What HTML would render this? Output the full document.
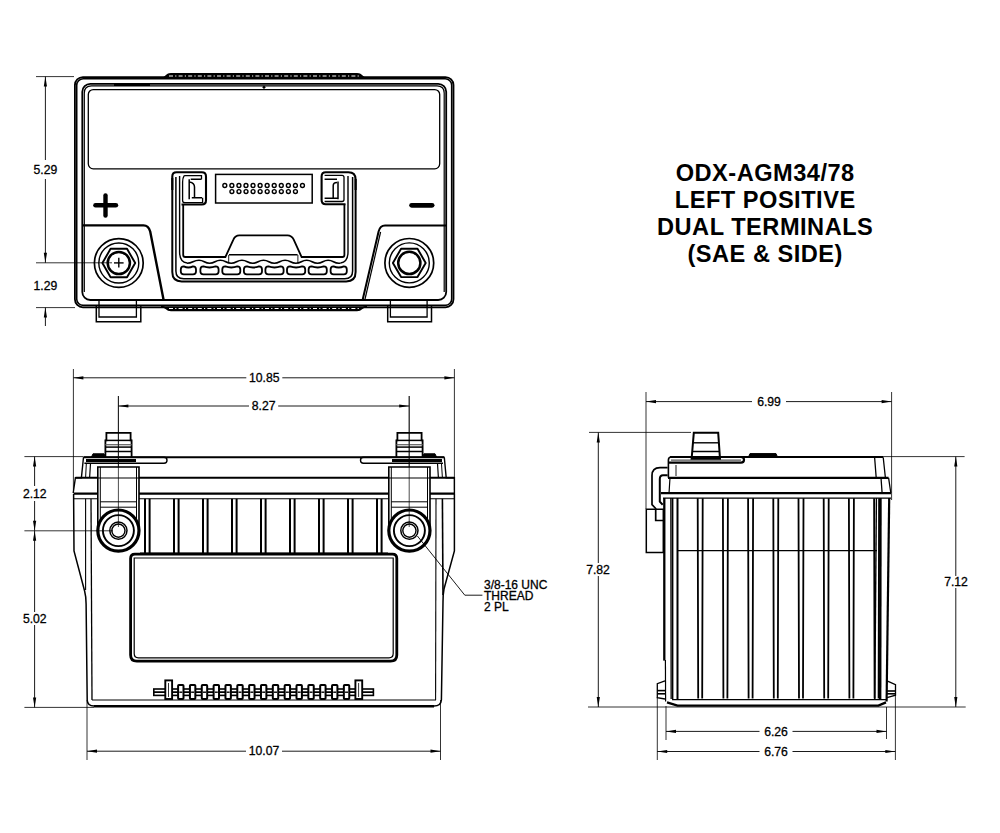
<!DOCTYPE html>
<html><head><meta charset="utf-8"><style>
html,body{margin:0;padding:0;background:#fff;}
svg{display:block;}
text{font-family:"Liberation Sans",sans-serif;fill:#000;}
</style></head><body>
<svg width="1000" height="833" viewBox="0 0 1000 833">
<rect width="1000" height="833" fill="#fff"/>
<rect x="74.9" y="77.1" width="378.6" height="230.2" rx="8" fill="none" stroke="#000" stroke-width="1.8" />
<rect x="76.7" y="78.8" width="375.0" height="226.6" rx="6.5" fill="none" stroke="#000" stroke-width="1.6" />
<rect x="82.3" y="83.8" width="363.9" height="216.2" rx="8" fill="none" stroke="#000" stroke-width="1.8" />
<path d="M84.3,292 L84.3,93 Q84.3,85.8 91.5,85.8 L437,85.8 Q444.2,85.8 444.2,93 L444.2,292" fill="none" stroke="#000" stroke-width="1.2" />
<rect x="88.3" y="89.6" width="351.4" height="79.2" rx="5" fill="none" stroke="#000" stroke-width="1.3" />
<path d="M161,78.2 Q164,78.2 166,75.8 Q168,73.6 171,73.6 L357,73.6 Q360,73.6 362,75.8 Q364,78.2 367,78.2" fill="#000" stroke="#000" stroke-width="1.3" />
<line x1="169" y1="76.0" x2="359" y2="76.0" stroke="#fff" stroke-width="1.0" stroke-dasharray="4 2.2 1.2 2.2"/>
<path d="M161,306.5 Q164,306.5 166,308.5 Q168,310.6 171,310.6 L357,310.6 Q360,310.6 362,308.5 Q364,306.5 367,306.5" fill="#000" stroke="#000" stroke-width="1.3" />
<line x1="169" y1="308.5" x2="359" y2="308.5" stroke="#fff" stroke-width="1.0" stroke-dasharray="4 2.2 1.2 2.2"/>
<line x1="114" y1="84.8" x2="150" y2="84.8" stroke="#000" stroke-width="2.2" />
<circle cx="264" cy="87.2" r="1.2" fill="#000" stroke="#000" stroke-width="0.5"/>
<line x1="95.5" y1="205.2" x2="115.9" y2="205.2" stroke="#000" stroke-width="4.6" stroke-linecap="round"/>
<line x1="105.5" y1="195.4" x2="105.5" y2="215.5" stroke="#000" stroke-width="4.4" stroke-linecap="round"/>
<line x1="411.6" y1="205.3" x2="432.1" y2="205.3" stroke="#000" stroke-width="4.8" stroke-linecap="round"/>
<path d="M82.3,225.4 L143.5,225.4 Q148.5,225.4 150.2,231.5 L163.6,300" fill="none" stroke="#000" stroke-width="2.4" />
<path d="M446.2,225.4 L385,225.4 Q380,225.4 378.6,231.5 L362.6,300" fill="none" stroke="#000" stroke-width="2.0" />
<path d="M380.6,232 L364.8,300" fill="none" stroke="#000" stroke-width="1.2" />
<line x1="90" y1="300" x2="438" y2="300" stroke="#000" stroke-width="1.8" />
<circle cx="118.8" cy="263.0" r="24.4" fill="none" stroke="#000" stroke-width="1.7"/>
<circle cx="118.8" cy="263.0" r="20.0" fill="none" stroke="#000" stroke-width="1.4"/>
<polygon points="135.2,263.0 127.0,277.2 110.6,277.2 102.4,263.0 110.6,248.8 127.0,248.8" fill="none" stroke="#000" stroke-width="1.9" stroke-linejoin="round"/>
<circle cx="118.8" cy="263.0" r="11.1" fill="none" stroke="#000" stroke-width="2.5"/>
<circle cx="409.3" cy="262.9" r="24.4" fill="none" stroke="#000" stroke-width="1.7"/>
<circle cx="409.3" cy="262.9" r="20.0" fill="none" stroke="#000" stroke-width="1.4"/>
<polygon points="425.7,262.9 417.5,277.1 401.1,277.1 392.9,262.9 401.1,248.7 417.5,248.7" fill="none" stroke="#000" stroke-width="1.9" stroke-linejoin="round"/>
<circle cx="409.3" cy="262.9" r="11.1" fill="none" stroke="#000" stroke-width="2.5"/>
<line x1="114" y1="262.9" x2="123.6" y2="262.9" stroke="#000" stroke-width="1.4" />
<line x1="118.8" y1="257.8" x2="118.8" y2="267.6" stroke="#000" stroke-width="1.4" />
<path d="M96.3,306 L96.3,321.8 L140.8,321.8 L140.8,306" fill="none" stroke="#000" stroke-width="1.5" />
<path d="M99.0,301 L99.0,317 L136.4,317 L136.4,301" fill="none" stroke="#000" stroke-width="1.3" />
<line x1="99.0" y1="305.8" x2="136.4" y2="305.8" stroke="#000" stroke-width="1.0" />
<path d="M387.7,306 L387.7,321.8 L431.5,321.8 L431.5,306" fill="none" stroke="#000" stroke-width="1.5" />
<path d="M390.4,301 L390.4,317 L427.1,317 L427.1,301" fill="none" stroke="#000" stroke-width="1.3" />
<line x1="390.4" y1="305.8" x2="427.1" y2="305.8" stroke="#000" stroke-width="1.0" />
<path d="M172.3,190 L172.3,176.5 Q172.3,172.3 176.5,172.3 L201.8,172.3 Q206,172.3 206,176.5 L206,200.3 Q206,204.5 201.8,204.5 L181.5,204.5" fill="none" stroke="#000" stroke-width="2.1" />
<path d="M355.6,190 L355.6,179.5 Q355.6,172.3 348.4,172.3 L325.8,172.3 Q321.6,172.3 321.6,176.5 L321.6,200.1 Q321.6,204.3 325.8,204.3 L345.5,204.3" fill="none" stroke="#000" stroke-width="2.1" />
<path d="M172.3,178 L172.3,272 Q172.3,281.4 181.7,281.4 L346.2,281.4 Q355.6,281.4 355.6,272 L355.6,179" fill="none" stroke="#000" stroke-width="2.0" />
<path d="M175.9,177 L175.9,271 Q175.9,278.8 183.7,278.8 L344.8,278.8 Q352.6,278.8 352.6,271 L352.6,177" fill="none" stroke="#000" stroke-width="1.5" />
<path d="M179.6,176 L179.6,252 Q179.6,262 187,263" fill="none" stroke="#000" stroke-width="1.4" />
<path d="M348,176 L348,252 Q348,262 340.5,263" fill="none" stroke="#000" stroke-width="1.4" />
<path d="M183.2,204.5 L183.2,255 Q183.2,257 185.2,257 L225.4,257 L233.5,239.4 Q235.2,235.3 239.3,235.3 L287.5,235.3 Q291.6,235.3 293.6,239.4 L301.6,257 L342.4,257 Q344.4,257 344.4,255 L344.4,204.2" fill="none" stroke="#000" stroke-width="1.8" />
<line x1="229" y1="254.8" x2="297.6" y2="254.8" stroke="#000" stroke-width="1.6" />
<line x1="228.7" y1="255" x2="228.7" y2="263" stroke="#000" stroke-width="0.9" />
<line x1="297.9" y1="255" x2="297.9" y2="263" stroke="#000" stroke-width="0.9" />
<path d="M187,263.2 C193.0,263.2 193.0,260.2 199.0,260.2 C204.3,260.2 204.3,263.2 209.6,263.2 C215.0,263.2 215.0,260.2 220.39999999999998,260.2 C225.79999999999998,260.2 225.79999999999998,263.2 231.2,263.2 C236.575,263.2 236.575,260.2 241.95,260.2 C247.325,260.2 247.325,263.2 252.7,263.2 C258.1,263.2 258.1,260.2 263.5,260.2 C268.9,260.2 268.9,263.2 274.3,263.2 C279.70000000000005,263.2 279.70000000000005,260.2 285.1,260.2 C290.5,260.2 290.5,263.2 295.9,263.2 C301.29999999999995,263.2 301.29999999999995,260.2 306.7,260.2 C312.1,260.2 312.1,263.2 317.5,263.2 C322.825,263.2 322.825,260.2 328.15,260.2 C333.475,260.2 333.475,263.2 338.8,263.2 C339.65,263.2 339.65,263.2 340.5,263.2" fill="none" stroke="#000" stroke-width="1.6" />
<path d="M183.8,266.4 Q188.4,268.6 193.0,266.4 Q196.0,266.4 196.0,269.4 L196.0,271.6 Q196.0,274.4 193.0,274.4 L183.8,274.4 Q180.8,274.4 180.8,271.6 L180.8,269.4 Q180.8,266.4 183.8,266.4 Z" fill="none" stroke="#000" stroke-width="1.8" />
<path d="M203.4,266.4 Q209.5,268.6 215.6,266.4 Q218.6,266.4 218.6,269.4 L218.6,271.6 Q218.6,274.4 215.6,274.4 L203.4,274.4 Q200.4,274.4 200.4,271.6 L200.4,269.4 Q200.4,266.4 203.4,266.4 Z" fill="none" stroke="#000" stroke-width="1.8" />
<path d="M225.3,266.4 Q231.3,268.6 237.3,266.4 Q240.3,266.4 240.3,269.4 L240.3,271.6 Q240.3,274.4 237.3,274.4 L225.3,274.4 Q222.3,274.4 222.3,271.6 L222.3,269.4 Q222.3,266.4 225.3,266.4 Z" fill="none" stroke="#000" stroke-width="1.8" />
<path d="M246.9,266.4 Q252.95,268.6 259.0,266.4 Q262.0,266.4 262.0,269.4 L262.0,271.6 Q262.0,274.4 259.0,274.4 L246.9,274.4 Q243.9,274.4 243.9,271.6 L243.9,269.4 Q243.9,266.4 246.9,266.4 Z" fill="none" stroke="#000" stroke-width="1.8" />
<path d="M268.4,266.4 Q274.5,268.6 280.6,266.4 Q283.6,266.4 283.6,269.4 L283.6,271.6 Q283.6,274.4 280.6,274.4 L268.4,274.4 Q265.4,274.4 265.4,271.6 L265.4,269.4 Q265.4,266.4 268.4,266.4 Z" fill="none" stroke="#000" stroke-width="1.8" />
<path d="M290.0,266.4 Q296.1,268.6 302.2,266.4 Q305.2,266.4 305.2,269.4 L305.2,271.6 Q305.2,274.4 302.2,274.4 L290.0,274.4 Q287.0,274.4 287.0,271.6 L287.0,269.4 Q287.0,266.4 290.0,266.4 Z" fill="none" stroke="#000" stroke-width="1.8" />
<path d="M311.6,266.4 Q317.70000000000005,268.6 323.8,266.4 Q326.8,266.4 326.8,269.4 L326.8,271.6 Q326.8,274.4 323.8,274.4 L311.6,274.4 Q308.6,274.4 308.6,271.6 L308.6,269.4 Q308.6,266.4 311.6,266.4 Z" fill="none" stroke="#000" stroke-width="1.8" />
<path d="M333.6,266.4 Q338.70000000000005,268.6 343.8,266.4 Q346.8,266.4 346.8,269.4 L346.8,271.6 Q346.8,274.4 343.8,274.4 L333.6,274.4 Q330.6,274.4 330.6,271.6 L330.6,269.4 Q330.6,266.4 333.6,266.4 Z" fill="none" stroke="#000" stroke-width="1.8" />
<path d="M184.2,175.6 L201.5,175.6 L201.5,179.3 M184.2,175.6 Q182.6,178 182.6,182 L182.6,200.4 Q182.6,202.6 185,202.6 L202.6,202.6 L202.6,197.7" fill="none" stroke="#000" stroke-width="1.3" />
<path d="M189.2,179.3 L189.2,199.3 M190.7,179.3 L201.5,179.3 M189.6,182 Q194.5,183 194.5,187 L194.5,197.2 M191.8,197.7 L202,197.7" fill="none" stroke="#000" stroke-width="1.5" />
<path d="M324.6,175.3 L342,175.3 Q344,175.3 344,177.3 L344,199.5 Q344,201.5 342,201.5 L324.6,201.5" fill="none" stroke="#000" stroke-width="1.3" />
<path d="M338,181.5 L338,199.3 M324.6,179.3 L337,179.3 M333.2,185.8 Q333.2,182.6 337,182.6 M333.2,185.8 L333.2,198 M324.6,198.2 L338,198.2" fill="none" stroke="#000" stroke-width="1.5" />
<rect x="215.6" y="174.4" width="96.6" height="28.6" rx="0" fill="none" stroke="#000" stroke-width="1.5" />
<circle cx="224.8" cy="185.5" r="1.95" fill="none" stroke="#000" stroke-width="1.4"/>
<circle cx="231.86" cy="185.5" r="1.95" fill="none" stroke="#000" stroke-width="1.4"/>
<circle cx="238.92000000000002" cy="185.5" r="1.95" fill="none" stroke="#000" stroke-width="1.4"/>
<circle cx="245.98000000000002" cy="185.5" r="1.95" fill="none" stroke="#000" stroke-width="1.4"/>
<circle cx="253.04000000000002" cy="185.5" r="1.95" fill="none" stroke="#000" stroke-width="1.4"/>
<circle cx="260.1" cy="185.5" r="1.95" fill="none" stroke="#000" stroke-width="1.4"/>
<circle cx="267.16" cy="185.5" r="1.95" fill="none" stroke="#000" stroke-width="1.4"/>
<circle cx="274.22" cy="185.5" r="1.95" fill="none" stroke="#000" stroke-width="1.4"/>
<circle cx="281.28000000000003" cy="185.5" r="1.95" fill="none" stroke="#000" stroke-width="1.4"/>
<circle cx="288.34000000000003" cy="185.5" r="1.95" fill="none" stroke="#000" stroke-width="1.4"/>
<circle cx="295.4" cy="185.5" r="1.95" fill="none" stroke="#000" stroke-width="1.4"/>
<circle cx="302.46000000000004" cy="185.5" r="1.95" fill="none" stroke="#000" stroke-width="1.4"/>
<circle cx="231.9" cy="191.6" r="1.95" fill="none" stroke="#000" stroke-width="1.4"/>
<circle cx="238.96" cy="191.6" r="1.95" fill="none" stroke="#000" stroke-width="1.4"/>
<circle cx="246.02" cy="191.6" r="1.95" fill="none" stroke="#000" stroke-width="1.4"/>
<circle cx="253.08" cy="191.6" r="1.95" fill="none" stroke="#000" stroke-width="1.4"/>
<circle cx="260.14" cy="191.6" r="1.95" fill="none" stroke="#000" stroke-width="1.4"/>
<circle cx="267.2" cy="191.6" r="1.95" fill="none" stroke="#000" stroke-width="1.4"/>
<circle cx="274.26" cy="191.6" r="1.95" fill="none" stroke="#000" stroke-width="1.4"/>
<circle cx="281.32" cy="191.6" r="1.95" fill="none" stroke="#000" stroke-width="1.4"/>
<circle cx="288.38" cy="191.6" r="1.95" fill="none" stroke="#000" stroke-width="1.4"/>
<circle cx="295.44" cy="191.6" r="1.95" fill="none" stroke="#000" stroke-width="1.4"/>
<line x1="36" y1="76.6" x2="74" y2="76.6" stroke="#000" stroke-width="0.8" />
<line x1="36" y1="262.8" x2="112" y2="262.8" stroke="#000" stroke-width="0.8" />
<line x1="36" y1="307.6" x2="75" y2="307.6" stroke="#000" stroke-width="0.8" />
<line x1="45.4" y1="76.6" x2="45.4" y2="160" stroke="#000" stroke-width="0.9" />
<line x1="45.4" y1="179" x2="45.4" y2="262.8" stroke="#000" stroke-width="0.9" />
<polygon points="45.4,76.6 43.8,86.6 47.0,86.6" fill="#000"/>
<polygon points="45.4,262.8 43.8,252.8 47.0,252.8" fill="#000"/>
<line x1="45.4" y1="307.6" x2="45.4" y2="326" stroke="#000" stroke-width="0.9" />
<polygon points="45.4,307.6 43.8,317.6 47.0,317.6" fill="#000"/>
<text x="45.4" y="173.8" font-size="12.2" text-anchor="middle" font-weight="normal" stroke="#000" stroke-width="0.3">5.29</text>
<text x="45.4" y="289.8" font-size="12.2" text-anchor="middle" font-weight="normal" stroke="#000" stroke-width="0.3">1.29</text>
<text x="765.2" y="180.5" font-size="23.6" text-anchor="middle" font-weight="bold" letter-spacing="0.5">ODX-AGM34/78</text>
<text x="765.2" y="207.7" font-size="23.6" text-anchor="middle" font-weight="bold" letter-spacing="0.5">LEFT POSITIVE</text>
<text x="765.2" y="234.9" font-size="23.6" text-anchor="middle" font-weight="bold" letter-spacing="0.5">DUAL TERMINALS</text>
<text x="765.2" y="262.1" font-size="23.6" text-anchor="middle" font-weight="bold" letter-spacing="0.5">(SAE &amp; SIDE)</text>
<line x1="73.4" y1="369" x2="73.4" y2="490" stroke="#000" stroke-width="0.8" />
<line x1="454.4" y1="369" x2="454.4" y2="490" stroke="#000" stroke-width="0.8" />
<line x1="73.4" y1="377.8" x2="246.3" y2="377.8" stroke="#000" stroke-width="0.9" />
<line x1="282.3" y1="377.8" x2="454.4" y2="377.8" stroke="#000" stroke-width="0.9" />
<polygon points="73.4,377.8 83.4,376.2 83.4,379.4" fill="#000"/>
<polygon points="454.4,377.8 444.4,376.2 444.4,379.4" fill="#000"/>
<text x="264.3" y="382.0" font-size="12.2" text-anchor="middle" font-weight="normal" stroke="#000" stroke-width="0.3">10.85</text>
<line x1="118.4" y1="396" x2="118.4" y2="530" stroke="#000" stroke-width="0.7" />
<line x1="409.2" y1="396" x2="409.2" y2="530" stroke="#000" stroke-width="0.7" />
<line x1="118.4" y1="406" x2="249.00000000000003" y2="406" stroke="#000" stroke-width="0.9" />
<line x1="278.20000000000005" y1="406" x2="409.2" y2="406" stroke="#000" stroke-width="0.9" />
<polygon points="118.4,406.0 128.4,404.4 128.4,407.6" fill="#000"/>
<polygon points="409.2,406.0 399.2,404.4 399.2,407.6" fill="#000"/>
<text x="263.6" y="410.2" font-size="12.2" text-anchor="middle" font-weight="normal" stroke="#000" stroke-width="0.3">8.27</text>
<path d="M105.4,457 L105.4,440.4 L106.4,440.4 L106.4,432.8 L130.6,432.8 L130.6,440.4 L131.6,440.4 L131.6,457" fill="none" stroke="#000" stroke-width="1.8" />
<line x1="105.4" y1="440.4" x2="131.6" y2="440.4" stroke="#000" stroke-width="1.5" />
<line x1="105.4" y1="444.7" x2="131.6" y2="444.7" stroke="#666" stroke-width="1.3" />
<line x1="105.4" y1="447.1" x2="131.6" y2="447.1" stroke="#000" stroke-width="1.5" />
<line x1="105.4" y1="451.5" x2="131.6" y2="451.5" stroke="#000" stroke-width="1.5" />
<path d="M396.4,457 L396.4,440.4 L397.4,440.4 L397.4,432.8 L421.59999999999997,432.8 L421.59999999999997,440.4 L422.59999999999997,440.4 L422.59999999999997,457" fill="none" stroke="#000" stroke-width="1.8" />
<line x1="396.4" y1="440.4" x2="422.59999999999997" y2="440.4" stroke="#000" stroke-width="1.5" />
<line x1="396.4" y1="444.7" x2="422.59999999999997" y2="444.7" stroke="#666" stroke-width="1.3" />
<line x1="396.4" y1="447.1" x2="422.59999999999997" y2="447.1" stroke="#000" stroke-width="1.5" />
<line x1="396.4" y1="451.5" x2="422.59999999999997" y2="451.5" stroke="#000" stroke-width="1.5" />
<line x1="83.5" y1="457.2" x2="444.3" y2="457.2" stroke="#000" stroke-width="2.0" />
<path d="M83.5,457.2 L164,457.2 Q167,457.2 167,460.2 Q167,463.2 164,463.2 L84.4,463.2" fill="none" stroke="#000" stroke-width="1.4" />
<path d="M444.3,457.2 L363.5,457.2 Q360.5,457.2 360.5,460.2 Q360.5,463.2 363.5,463.2 L443,463.2" fill="none" stroke="#000" stroke-width="1.4" />
<line x1="86" y1="460.6" x2="136" y2="460.6" stroke="#000" stroke-width="3.0" />
<line x1="392" y1="460.6" x2="442" y2="460.6" stroke="#000" stroke-width="3.0" />
<path d="M91.5,457 L93,453.8 L104,453.8 L105.5,457 Z" fill="#000" stroke="#000" stroke-width="1.0" />
<path d="M422.5,457 L424,453.8 L435,453.8 L436.5,457 Z" fill="#000" stroke="#000" stroke-width="1.0" />
<path d="M83.5,457.2 L81.4,477.8 L75.4,477.8 L73.2,493" fill="none" stroke="#000" stroke-width="1.4" />
<path d="M86.3,463.7 L85.6,477.8" fill="none" stroke="#000" stroke-width="1.0" />
<path d="M90.5,463.7 L89.6,477.8" fill="none" stroke="#000" stroke-width="1.2" />
<path d="M444.3,457.2 L446.2,477.8 L454.4,477.8 L454.4,494" fill="none" stroke="#000" stroke-width="1.4" />
<path d="M441.5,463.7 L442.4,477.8" fill="none" stroke="#000" stroke-width="1.0" />
<path d="M437.5,463.7 L438.4,477.8" fill="none" stroke="#000" stroke-width="1.2" />
<line x1="75.5" y1="477.8" x2="454.4" y2="477.8" stroke="#000" stroke-width="2.0" />
<line x1="73.6" y1="493.6" x2="454.4" y2="493.6" stroke="#000" stroke-width="2.2" />
<line x1="73.6" y1="498.8" x2="454.4" y2="498.8" stroke="#000" stroke-width="1.1" />
<rect x="97.80000000000001" y="467" width="41.19999999999999" height="60" fill="#fff" stroke="none"/>
<path d="M97.80000000000001,530 L97.80000000000001,467 L139.0,467 L139.0,530" fill="none" stroke="#000" stroke-width="1.6" />
<line x1="100.30000000000001" y1="467" x2="100.30000000000001" y2="530" stroke="#000" stroke-width="1.0" />
<line x1="136.5" y1="467" x2="136.5" y2="530" stroke="#000" stroke-width="1.0" />
<line x1="97.80000000000001" y1="478" x2="139.0" y2="478" stroke="#000" stroke-width="1.2" />
<line x1="100.30000000000001" y1="501.8" x2="136.5" y2="501.8" stroke="#000" stroke-width="1.0" />
<line x1="100.30000000000001" y1="507.2" x2="136.5" y2="507.2" stroke="#000" stroke-width="1.0" />
<circle cx="118.4" cy="530.6" r="20.6" fill="#fff" stroke="#000" stroke-width="3.2"/>
<circle cx="118.4" cy="530.6" r="15.5" fill="none" stroke="#000" stroke-width="1.9"/>
<circle cx="118.4" cy="530.6" r="8.6" fill="none" stroke="#000" stroke-width="1.5"/>
<circle cx="118.4" cy="530.6" r="6.6" fill="none" stroke="#000" stroke-width="1.4"/>
<rect x="388.79999999999995" y="467" width="41.200000000000045" height="60" fill="#fff" stroke="none"/>
<path d="M388.79999999999995,530 L388.79999999999995,467 L430.0,467 L430.0,530" fill="none" stroke="#000" stroke-width="1.6" />
<line x1="391.29999999999995" y1="467" x2="391.29999999999995" y2="530" stroke="#000" stroke-width="1.0" />
<line x1="427.5" y1="467" x2="427.5" y2="530" stroke="#000" stroke-width="1.0" />
<line x1="388.79999999999995" y1="478" x2="430.0" y2="478" stroke="#000" stroke-width="1.2" />
<line x1="391.29999999999995" y1="501.8" x2="427.5" y2="501.8" stroke="#000" stroke-width="1.0" />
<line x1="391.29999999999995" y1="507.2" x2="427.5" y2="507.2" stroke="#000" stroke-width="1.0" />
<circle cx="409.4" cy="530.6" r="20.6" fill="#fff" stroke="#000" stroke-width="3.2"/>
<circle cx="409.4" cy="530.6" r="15.5" fill="none" stroke="#000" stroke-width="1.9"/>
<circle cx="409.4" cy="530.6" r="8.6" fill="none" stroke="#000" stroke-width="1.5"/>
<circle cx="409.4" cy="530.6" r="6.6" fill="none" stroke="#000" stroke-width="1.4"/>
<line x1="118.4" y1="396" x2="118.4" y2="527" stroke="#000" stroke-width="0.7" />
<line x1="409.2" y1="396" x2="409.2" y2="527" stroke="#000" stroke-width="0.7" />
<line x1="145.0" y1="498.8" x2="145.0" y2="553" stroke="#000" stroke-width="2.0" />
<line x1="149.6" y1="498.8" x2="149.6" y2="553" stroke="#000" stroke-width="2.0" />
<line x1="174.0" y1="498.8" x2="174.0" y2="553" stroke="#000" stroke-width="2.0" />
<line x1="178.6" y1="498.8" x2="178.6" y2="553" stroke="#000" stroke-width="2.0" />
<line x1="203.0" y1="498.8" x2="203.0" y2="553" stroke="#000" stroke-width="2.0" />
<line x1="207.6" y1="498.8" x2="207.6" y2="553" stroke="#000" stroke-width="2.0" />
<line x1="232.0" y1="498.8" x2="232.0" y2="553" stroke="#000" stroke-width="2.0" />
<line x1="236.6" y1="498.8" x2="236.6" y2="553" stroke="#000" stroke-width="2.0" />
<line x1="261.0" y1="498.8" x2="261.0" y2="553" stroke="#000" stroke-width="2.0" />
<line x1="265.6" y1="498.8" x2="265.6" y2="553" stroke="#000" stroke-width="2.0" />
<line x1="290.0" y1="498.8" x2="290.0" y2="553" stroke="#000" stroke-width="2.0" />
<line x1="294.6" y1="498.8" x2="294.6" y2="553" stroke="#000" stroke-width="2.0" />
<line x1="319.0" y1="498.8" x2="319.0" y2="553" stroke="#000" stroke-width="2.0" />
<line x1="323.6" y1="498.8" x2="323.6" y2="553" stroke="#000" stroke-width="2.0" />
<line x1="348.0" y1="498.8" x2="348.0" y2="553" stroke="#000" stroke-width="2.0" />
<line x1="352.6" y1="498.8" x2="352.6" y2="553" stroke="#000" stroke-width="2.0" />
<line x1="377.0" y1="498.8" x2="377.0" y2="553" stroke="#000" stroke-width="2.0" />
<line x1="381.6" y1="498.8" x2="381.6" y2="553" stroke="#000" stroke-width="2.0" />
<line x1="140" y1="553.6" x2="388" y2="553.6" stroke="#000" stroke-width="2.4" />
<path d="M130.6,558.5 Q130.6,554.2 134.9,554.2 L392.5,554.2 Q396.8,554.2 396.8,558.5 L396.8,655 Q396.8,661.2 390.6,661.2 L136.8,661.2 Q130.6,661.2 130.6,655 Z" fill="none" stroke="#000" stroke-width="2.8" />
<path d="M134.2,558 L393.2,558 L393.2,653.5 Q393.2,657.8 389,657.8 L138.4,657.8 Q134.2,657.8 134.2,653.5 Z" fill="none" stroke="#000" stroke-width="1.2" />
<path d="M73.6,494 L74,551 L84.6,591 Q86,596 86.1,604 L87.2,700 Q87.5,706 94,706" fill="none" stroke="#000" stroke-width="1.5" />
<line x1="85.6" y1="498.8" x2="85.6" y2="590" stroke="#000" stroke-width="1.1" />
<line x1="91" y1="498.8" x2="92" y2="700" stroke="#000" stroke-width="1.3" />
<path d="M454.4,494 L454.4,551 L444,589 Q443,594 443,602 L441.4,700 Q441,706 434,706" fill="none" stroke="#000" stroke-width="1.5" />
<line x1="442.4" y1="498.8" x2="443" y2="595" stroke="#000" stroke-width="1.6" />
<line x1="436" y1="498.8" x2="435.6" y2="700" stroke="#000" stroke-width="1.1" />
<line x1="92" y1="700" x2="436" y2="700" stroke="#000" stroke-width="1.0" />
<line x1="94" y1="706.2" x2="434" y2="706.2" stroke="#000" stroke-width="2.4" />
<rect x="153.8" y="689.0" width="219.6" height="6.4" rx="0" fill="none" stroke="#000" stroke-width="1.6" />
<line x1="153.8" y1="692.2" x2="373.4" y2="692.2" stroke="#000" stroke-width="1.8" />
<rect x="165.3" y="680.4" width="6.8" height="18.6" fill="#fff" stroke="#000" stroke-width="1.9"/>
<line x1="168.5" y1="683" x2="168.5" y2="697" stroke="#000" stroke-width="0.8" />
<rect x="355.4" y="680.4" width="6.8" height="18.6" fill="#fff" stroke="#000" stroke-width="1.9"/>
<line x1="358.59999999999997" y1="683" x2="358.59999999999997" y2="697" stroke="#000" stroke-width="0.8" />
<rect x="178.10000000000002" y="684.9" width="5.4" height="14.2" rx="0.8" fill="#fff" stroke="#000" stroke-width="2.0"/>
<line x1="179.3" y1="692.2" x2="182.3" y2="692.2" stroke="#000" stroke-width="1.4" />
<rect x="189.94000000000003" y="684.9" width="5.4" height="14.2" rx="0.8" fill="#fff" stroke="#000" stroke-width="2.0"/>
<line x1="191.14000000000001" y1="692.2" x2="194.14000000000001" y2="692.2" stroke="#000" stroke-width="1.4" />
<rect x="201.78000000000003" y="684.9" width="5.4" height="14.2" rx="0.8" fill="#fff" stroke="#000" stroke-width="2.0"/>
<line x1="202.98000000000002" y1="692.2" x2="205.98000000000002" y2="692.2" stroke="#000" stroke-width="1.4" />
<rect x="213.62" y="684.9" width="5.4" height="14.2" rx="0.8" fill="#fff" stroke="#000" stroke-width="2.0"/>
<line x1="214.82" y1="692.2" x2="217.82" y2="692.2" stroke="#000" stroke-width="1.4" />
<rect x="225.46000000000004" y="684.9" width="5.4" height="14.2" rx="0.8" fill="#fff" stroke="#000" stroke-width="2.0"/>
<line x1="226.66000000000003" y1="692.2" x2="229.66000000000003" y2="692.2" stroke="#000" stroke-width="1.4" />
<rect x="237.3" y="684.9" width="5.4" height="14.2" rx="0.8" fill="#fff" stroke="#000" stroke-width="2.0"/>
<line x1="238.5" y1="692.2" x2="241.5" y2="692.2" stroke="#000" stroke-width="1.4" />
<rect x="249.14000000000001" y="684.9" width="5.4" height="14.2" rx="0.8" fill="#fff" stroke="#000" stroke-width="2.0"/>
<line x1="250.34" y1="692.2" x2="253.34" y2="692.2" stroke="#000" stroke-width="1.4" />
<rect x="260.98" y="684.9" width="5.4" height="14.2" rx="0.8" fill="#fff" stroke="#000" stroke-width="2.0"/>
<line x1="262.18" y1="692.2" x2="265.18" y2="692.2" stroke="#000" stroke-width="1.4" />
<rect x="272.82" y="684.9" width="5.4" height="14.2" rx="0.8" fill="#fff" stroke="#000" stroke-width="2.0"/>
<line x1="274.02" y1="692.2" x2="277.02" y2="692.2" stroke="#000" stroke-width="1.4" />
<rect x="284.66" y="684.9" width="5.4" height="14.2" rx="0.8" fill="#fff" stroke="#000" stroke-width="2.0"/>
<line x1="285.86" y1="692.2" x2="288.86" y2="692.2" stroke="#000" stroke-width="1.4" />
<rect x="296.50000000000006" y="684.9" width="5.4" height="14.2" rx="0.8" fill="#fff" stroke="#000" stroke-width="2.0"/>
<line x1="297.70000000000005" y1="692.2" x2="300.70000000000005" y2="692.2" stroke="#000" stroke-width="1.4" />
<rect x="308.34000000000003" y="684.9" width="5.4" height="14.2" rx="0.8" fill="#fff" stroke="#000" stroke-width="2.0"/>
<line x1="309.54" y1="692.2" x2="312.54" y2="692.2" stroke="#000" stroke-width="1.4" />
<rect x="320.18" y="684.9" width="5.4" height="14.2" rx="0.8" fill="#fff" stroke="#000" stroke-width="2.0"/>
<line x1="321.38" y1="692.2" x2="324.38" y2="692.2" stroke="#000" stroke-width="1.4" />
<rect x="332.02000000000004" y="684.9" width="5.4" height="14.2" rx="0.8" fill="#fff" stroke="#000" stroke-width="2.0"/>
<line x1="333.22" y1="692.2" x2="336.22" y2="692.2" stroke="#000" stroke-width="1.4" />
<rect x="343.86" y="684.9" width="5.4" height="14.2" rx="0.8" fill="#fff" stroke="#000" stroke-width="2.0"/>
<line x1="345.06" y1="692.2" x2="348.06" y2="692.2" stroke="#000" stroke-width="1.4" />
<path d="M417.4,536 L464.8,595.2 L482.4,595.2" fill="none" stroke="#000" stroke-width="0.9" />
<text x="484" y="588.8" font-size="12.0" text-anchor="start" font-weight="normal" stroke="#000" stroke-width="0.3">3/8-16 UNC</text>
<text x="484" y="600" font-size="12.0" text-anchor="start" font-weight="normal" stroke="#000" stroke-width="0.3">THREAD</text>
<text x="484" y="611.2" font-size="12.0" text-anchor="start" font-weight="normal" stroke="#000" stroke-width="0.3">2 PL</text>
<line x1="24.4" y1="456.6" x2="83" y2="456.6" stroke="#000" stroke-width="0.8" />
<line x1="24.4" y1="530.8" x2="113" y2="530.8" stroke="#000" stroke-width="0.8" />
<line x1="24.4" y1="707.4" x2="94" y2="707.4" stroke="#000" stroke-width="0.8" />
<line x1="34.6" y1="456.6" x2="34.6" y2="486" stroke="#000" stroke-width="0.9" />
<line x1="34.6" y1="501" x2="34.6" y2="530.8" stroke="#000" stroke-width="0.9" />
<line x1="34.6" y1="530.8" x2="34.6" y2="612" stroke="#000" stroke-width="0.9" />
<line x1="34.6" y1="625" x2="34.6" y2="707.4" stroke="#000" stroke-width="0.9" />
<polygon points="34.6,456.6 33.0,466.6 36.2,466.6" fill="#000"/>
<polygon points="34.6,530.8 33.0,520.8 36.2,520.8" fill="#000"/>
<polygon points="34.6,530.8 33.0,540.8 36.2,540.8" fill="#000"/>
<polygon points="34.6,707.4 33.0,697.4 36.2,697.4" fill="#000"/>
<text x="34.8" y="497.6" font-size="12.2" text-anchor="middle" font-weight="normal" stroke="#000" stroke-width="0.3">2.12</text>
<text x="34.8" y="622.8" font-size="12.2" text-anchor="middle" font-weight="normal" stroke="#000" stroke-width="0.3">5.02</text>
<line x1="87" y1="700" x2="87" y2="760" stroke="#000" stroke-width="0.8" />
<line x1="440.5" y1="700" x2="440.5" y2="760" stroke="#000" stroke-width="0.8" />
<line x1="87" y1="751.2" x2="246" y2="751.2" stroke="#000" stroke-width="0.9" />
<line x1="282" y1="751.2" x2="440.5" y2="751.2" stroke="#000" stroke-width="0.9" />
<polygon points="87.0,751.2 97.0,749.6 97.0,752.8" fill="#000"/>
<polygon points="440.5,751.2 430.5,749.6 430.5,752.8" fill="#000"/>
<text x="264" y="755.4000000000001" font-size="12.2" text-anchor="middle" font-weight="normal" stroke="#000" stroke-width="0.3">10.07</text>
<line x1="646" y1="392" x2="646" y2="509" stroke="#000" stroke-width="0.8" />
<line x1="891.6" y1="392" x2="891.6" y2="500" stroke="#000" stroke-width="0.8" />
<line x1="646" y1="401.6" x2="752" y2="401.6" stroke="#000" stroke-width="0.9" />
<line x1="786" y1="401.6" x2="891.6" y2="401.6" stroke="#000" stroke-width="0.9" />
<polygon points="646.0,401.6 656.0,400.0 656.0,403.2" fill="#000"/>
<polygon points="891.6,401.6 881.6,400.0 881.6,403.2" fill="#000"/>
<text x="769" y="405.8" font-size="12.2" text-anchor="middle" font-weight="normal" stroke="#000" stroke-width="0.3">6.99</text>
<line x1="589" y1="432.4" x2="691" y2="432.4" stroke="#000" stroke-width="0.8" />
<line x1="883" y1="456.6" x2="964.6" y2="456.6" stroke="#000" stroke-width="0.8" />
<line x1="598.3" y1="432.4" x2="598.3" y2="563" stroke="#000" stroke-width="0.9" />
<line x1="598.3" y1="576" x2="598.3" y2="707" stroke="#000" stroke-width="0.9" />
<polygon points="598.3,432.4 596.7,442.4 599.9,442.4" fill="#000"/>
<polygon points="598.3,707.0 596.7,697.0 599.9,697.0" fill="#000"/>
<text x="598" y="574" font-size="12.2" text-anchor="middle" font-weight="normal" stroke="#000" stroke-width="0.3">7.82</text>
<line x1="955.8" y1="456.6" x2="955.8" y2="576" stroke="#000" stroke-width="0.9" />
<line x1="955.8" y1="588" x2="955.8" y2="707" stroke="#000" stroke-width="0.9" />
<polygon points="955.8,456.6 954.2,466.6 957.4,466.6" fill="#000"/>
<polygon points="955.8,707.0 954.2,697.0 957.4,697.0" fill="#000"/>
<text x="956" y="586" font-size="12.2" text-anchor="middle" font-weight="normal" stroke="#000" stroke-width="0.3">7.12</text>
<path d="M691.6,459 L693.8,432.8 L718.2,432.8 L720,459 Z" fill="none" stroke="#000" stroke-width="2.0" />
<line x1="693" y1="442.8" x2="719" y2="442.8" stroke="#000" stroke-width="1.4" />
<line x1="692.5" y1="451.5" x2="719.5" y2="451.5" stroke="#000" stroke-width="1.5" />
<line x1="670" y1="457" x2="883" y2="457" stroke="#000" stroke-width="2.0" />
<path d="M668.4,477.8 L668.4,460 Q668.4,457 671.4,457" fill="none" stroke="#000" stroke-width="1.6" />
<path d="M668.4,462.6 L741,462.6 Q744,462.6 744,459.8 Q744,457 741,457" fill="none" stroke="#000" stroke-width="2.2" />
<line x1="671" y1="460.2" x2="741" y2="460.2" stroke="#555" stroke-width="1.2" />
<line x1="676" y1="465" x2="676" y2="476" stroke="#000" stroke-width="0.9" />
<path d="M748.5,457 L750,453.6 L776,453.6 L777.5,457 Z" fill="#000" stroke="#000" stroke-width="1.0" />
<path d="M874.6,457.3 L876.2,477.8 M883.2,457.3 L885.4,477.8 M881,477.8 L882.1,493 M888.6,477.8 L890.8,493" fill="none" stroke="#000" stroke-width="1.3" />
<line x1="668" y1="477.8" x2="888.6" y2="477.8" stroke="#000" stroke-width="2.2" />
<line x1="661" y1="493.2" x2="891" y2="493.2" stroke="#000" stroke-width="2.3" />
<line x1="663" y1="498.2" x2="891" y2="498.2" stroke="#000" stroke-width="1.3" />
<path d="M670,478 L669,493.2" fill="none" stroke="#000" stroke-width="1.2" />
<path d="M667.6,467.6 L660,467.6 Q652,467.6 652,475.6 L652,504.7 L655.7,508.5 L655.7,520.5 L663.3,520.5" fill="none" stroke="#000" stroke-width="1.7" />
<path d="M667.6,475.2 L663,475.2 Q659.8,475.2 659.8,479 L659.8,501.6 L662.7,504.7" fill="none" stroke="#000" stroke-width="2.0" />
<path d="M646.3,509.2 L663.3,509.2 L663.3,552.6 L646.3,552.6 Z" fill="none" stroke="#000" stroke-width="1.5" />
<line x1="664.3" y1="498" x2="664.3" y2="660.6" stroke="#000" stroke-width="2.3" />
<line x1="665.4" y1="660" x2="665.6" y2="701.5" stroke="#000" stroke-width="1.2" />
<line x1="670.7" y1="498" x2="671" y2="699" stroke="#000" stroke-width="1.0" />
<line x1="672.4" y1="498" x2="672.4" y2="699" stroke="#000" stroke-width="2.0" />
<line x1="677.5" y1="498" x2="677.5" y2="699" stroke="#000" stroke-width="2.0" />
<path d="M697.7,498.2 L698.2,698.6 M702.7,498.2 L702.2,698.6" fill="none" stroke="#000" stroke-width="1.8" />
<path d="M722.9000000000001,498.2 L723.4000000000001,698.6 M727.9000000000001,498.2 L727.4000000000001,698.6" fill="none" stroke="#000" stroke-width="1.8" />
<path d="M748.1,498.2 L748.6,698.6 M753.1,498.2 L752.6,698.6" fill="none" stroke="#000" stroke-width="1.8" />
<path d="M773.3000000000001,498.2 L773.8000000000001,698.6 M778.3000000000001,498.2 L777.8000000000001,698.6" fill="none" stroke="#000" stroke-width="1.8" />
<path d="M798.5,498.2 L799.0,698.6 M803.5,498.2 L803.0,698.6" fill="none" stroke="#000" stroke-width="1.8" />
<path d="M823.7,498.2 L824.2,698.6 M828.7,498.2 L828.2,698.6" fill="none" stroke="#000" stroke-width="1.8" />
<path d="M848.9000000000001,498.2 L849.4000000000001,698.6 M853.9000000000001,498.2 L853.4000000000001,698.6" fill="none" stroke="#000" stroke-width="1.8" />
<path d="M874.1,498.2 L874.6,698.6 M879.1,498.2 L878.6,698.6" fill="none" stroke="#000" stroke-width="1.8" />
<line x1="876.4" y1="498" x2="874.8" y2="699" stroke="#000" stroke-width="1.4" />
<line x1="880.5" y1="498" x2="880.2" y2="699" stroke="#000" stroke-width="2.4" />
<line x1="889.2" y1="498" x2="886.6" y2="701.5" stroke="#000" stroke-width="2.2" />
<line x1="677" y1="550.6" x2="877" y2="550.6" stroke="#000" stroke-width="1.1" />
<line x1="672" y1="699.6" x2="886.6" y2="699.6" stroke="#000" stroke-width="1.1" />
<path d="M667,702.4 L677.5,705.6 L878.4,705.6 L886,702.4" fill="none" stroke="#000" stroke-width="2.4" />
<path d="M665,680.8 L657.3,683.7 L657.3,697.6 L665,699" fill="none" stroke="#000" stroke-width="1.3" />
<line x1="657.3" y1="690.6" x2="665" y2="690.6" stroke="#000" stroke-width="1.6" />
<line x1="657.3" y1="693.8" x2="665" y2="693.8" stroke="#000" stroke-width="1.6" />
<path d="M887,680.8 L895.5,684.7 L895.5,695.2 L887,697.6" fill="none" stroke="#000" stroke-width="1.3" />
<line x1="887" y1="691" x2="895.5" y2="691" stroke="#000" stroke-width="1.6" />
<line x1="887" y1="693.8" x2="895.5" y2="693.8" stroke="#000" stroke-width="1.6" />
<line x1="588" y1="707" x2="965.7" y2="707" stroke="#000" stroke-width="0.8" />
<line x1="657.3" y1="697" x2="657.3" y2="760" stroke="#000" stroke-width="0.8" />
<line x1="666" y1="706" x2="666" y2="740" stroke="#000" stroke-width="0.8" />
<line x1="886.5" y1="707" x2="886.5" y2="739" stroke="#000" stroke-width="0.8" />
<line x1="895.4" y1="695" x2="895.4" y2="760" stroke="#000" stroke-width="0.8" />
<line x1="666" y1="731.4" x2="759.5" y2="731.4" stroke="#000" stroke-width="0.9" />
<line x1="792.5" y1="731.4" x2="886.5" y2="731.4" stroke="#000" stroke-width="0.9" />
<polygon points="666.0,731.4 676.0,729.8 676.0,733.0" fill="#000"/>
<polygon points="886.5,731.4 876.5,729.8 876.5,733.0" fill="#000"/>
<text x="776" y="735.6" font-size="12.2" text-anchor="middle" font-weight="normal" stroke="#000" stroke-width="0.3">6.26</text>
<line x1="657.2" y1="751.5" x2="759.5" y2="751.5" stroke="#000" stroke-width="0.9" />
<line x1="792.5" y1="751.5" x2="895.3" y2="751.5" stroke="#000" stroke-width="0.9" />
<polygon points="657.2,751.5 667.2,749.9 667.2,753.1" fill="#000"/>
<polygon points="895.3,751.5 885.3,749.9 885.3,753.1" fill="#000"/>
<text x="776" y="755.7" font-size="12.2" text-anchor="middle" font-weight="normal" stroke="#000" stroke-width="0.3">6.76</text>
</svg></body></html>
